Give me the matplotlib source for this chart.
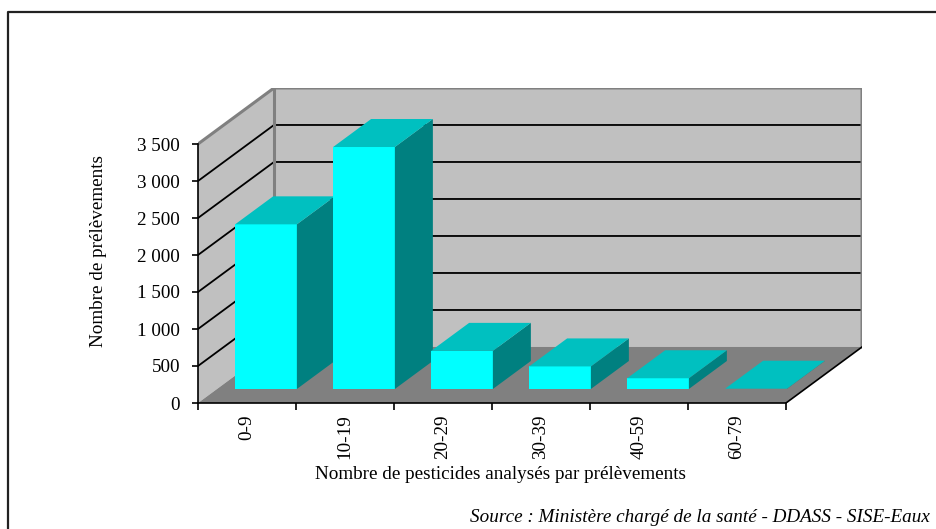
import matplotlib
matplotlib.use("Agg")
import matplotlib.pyplot as plt
from matplotlib.patches import Polygon
from matplotlib.lines import Line2D
from matplotlib.ticker import FuncFormatter

plt.rcParams["font.family"] = ["Liberation Serif", "DejaVu Serif"]
plt.rcParams["font.size"] = 13.8

categories = ["0-9", "10-19", "20-29", "30-39", "40-59", "60-79"]
counts = [2225, 3270, 515, 305, 145, 4]
y_ticks = [0, 500, 1000, 1500, 2000, 2500, 3000, 3500]

xlabel = "Nombre de pesticides analysés par prélèvements"
ylabel = "Nombre de prélèvements"
source = "Source : Ministère chargé de la santé - DDASS - SISE-Eaux"

# oblique 3d look: depth shift in data units
DX = 0.7755
DY = 757
ymax = 3500
n = len(categories)

W, H = 937, 529
fig = plt.figure(figsize=(W / 100, H / 100), dpi=100)

px_x = 98.0
px_y = 259.0 / ymax
left, bottom = 198, H - 403
ax = fig.add_axes([left / W, bottom / H, (n + DX) * px_x / W, (ymax + DY) * px_y / H])
ax.set_xlim(0, n + DX)
ax.set_ylim(0, ymax + DY)


def proj(x, y, z):
    return (x + z * DX, y + z * DY)


def poly(pts, color, z=1):
    ax.add_patch(Polygon([proj(*p) for p in pts], closed=True, facecolor=color,
                         edgecolor="none", linewidth=0, zorder=z))


def path(pts, **kw):
    pp = [proj(*p) for p in pts]
    ax.plot([p[0] for p in pp], [p[1] for p in pp], **kw)


wall_edge = "#808080"

# side wall, back wall, floor
poly([(0, 0, 0), (0, 0, 1), (0, ymax, 1), (0, ymax, 0)], "#c0c0c0")
poly([(0, 0, 1), (n, 0, 1), (n, ymax, 1), (0, ymax, 1)], "#c0c0c0")
poly([(0, 0, 0), (n, 0, 0), (n, 0, 1), (0, 0, 1)], "#808080")

# gridlines
for v in y_ticks[1:-1]:
    path([(0, v, 0), (0, v, 1), (n, v, 1)], color="black", lw=1.3, zorder=2)

# wall borders
path([(0, ymax, 0), (0, ymax, 1), (n, ymax, 1), (n, 0, 1)], color=wall_edge, lw=2.2,
     zorder=2, solid_joinstyle="miter")
path([(0, ymax, 1), (0, 0, 1)], color=wall_edge, lw=2.2, zorder=2)
path([(n, 0, 0), (n, 0, 1)], color="black", lw=1.2, zorder=2)

# bars
w = 0.63
z0, z1 = 0.25, 0.75
for i, v in enumerate(counts):
    x0 = i + 0.5 - w / 2
    x1 = x0 + w
    poly([(x0, 0, z0), (x1, 0, z0), (x1, v, z0), (x0, v, z0)], "#00ffff", z=3 + i)
    poly([(x1, 0, z0), (x1, 0, z1), (x1, v, z1), (x1, v, z0)], "#008080", z=3 + i)
    poly([(x0, v, z0), (x1, v, z0), (x1, v, z1), (x0, v, z1)], "#00c0c0", z=3 + i)

# axes
for s in ["top", "right"]:
    ax.spines[s].set_visible(False)
ax.spines["left"].set_bounds(0, ymax)
ax.spines["bottom"].set_bounds(0, n)
for s in ["left", "bottom"]:
    ax.spines[s].set_linewidth(1.2)
    ax.spines[s].set_zorder(20)

ax.set_yticks(y_ticks)
ax.yaxis.set_major_formatter(FuncFormatter(lambda v, p: f"{int(v):,}".replace(",", " ")))
ax.tick_params(axis="y", length=4, width=1.2, pad=9)

ax.set_xticks(range(n + 1))
ax.set_xticklabels([])
ax.set_xticks([i + 0.5 for i in range(n)], minor=True)
ax.set_xticklabels(categories, minor=True, rotation=90, va="top")
ax.tick_params(axis="x", which="major", length=5, width=1.2)
ax.tick_params(axis="x", which="minor", length=0, pad=8)

ax.set_xlabel(xlabel, labelpad=5, x=0.455)
ax.set_ylabel(ylabel, labelpad=22, y=0.484)

fig.text(930 / W, 1 - 517 / H, source, ha="right", va="center", style="italic")

# outer frame (left and top edges visible)
fig.add_artist(Line2D([8 / W, 8 / W, 1.01], [-0.01, 1 - 12 / H, 1 - 12 / H],
                      transform=fig.transFigure, color="#222222", lw=1.6))

fig.savefig("out.png", dpi=100)
